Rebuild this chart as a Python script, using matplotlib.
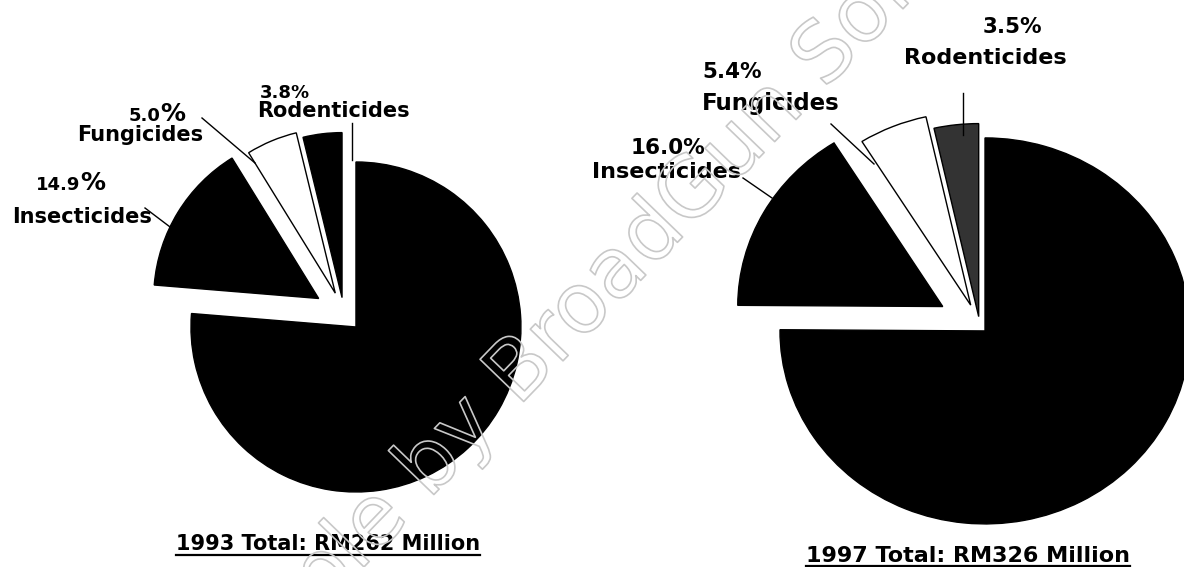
import numpy as np
import matplotlib.pyplot as plt
import matplotlib.patheffects as pe

W, H = 1184, 567

categories = ['Herbicides', 'Insecticides', 'Fungicides', 'Rodenticides']
share_1993 = [76.3, 14.9, 5.0, 3.8]
share_1997 = [75.1, 16.0, 5.4, 3.5]
total_1993 = 262
total_1997 = 326

colors_1993 = ['black', 'black', 'white', 'black']
colors_1997 = ['black', 'black', 'white', '#333333']
# explode as a fraction of the radius
explode_1993 = [0.107, 0.18, 0.137, 0.10]
explode_1997 = [0.036, 0.207, 0.117, 0.049]

plt.rcParams['font.family'] = ['DejaVu Sans']

fig = plt.figure(figsize=(W / 100, H / 100), dpi=100)


def draw_pie(values, colors, explode, cx, cy, r, sx, label):
    # one axes per pie so the right one can be stretched a little sideways
    ax = fig.add_axes([0, 0, 1, 1], label=label)
    ax.pie(values, explode=[e * r for e in explode], colors=colors,
           startangle=90, counterclock=False, radius=r,
           center=(cx / sx, H - cy),
           wedgeprops=dict(edgecolor='black', linewidth=1))
    ax.set_aspect('auto')
    ax.set_xlim(0, W / sx)
    ax.set_ylim(0, H)
    ax.axis('off')
    return ax


draw_pie(share_1993, colors_1993, explode_1993, 344, 314, 165, 1.0, 'p93')
draw_pie(share_1997, colors_1997, explode_1997, 979.8, 326, 193, 205 / 193, 'p97')

# overlay in image pixel coords for labels and leader lines
ov = fig.add_axes([0, 0, 1, 1], label='overlay')
ov.set_xlim(0, W)
ov.set_ylim(H, 0)
ov.axis('off')
ov.patch.set_alpha(0)

lab = dict(fontweight='bold', color='black', va='baseline')

# 1993 labels
ov.text(285, 98, f'{share_1993[3]:.1f}%', ha='center', fontsize=13, **lab)
ov.text(333, 117, categories[3], ha='center', fontsize=15, **lab)
ov.text(160, 121, f'{share_1993[2]:.1f}', ha='right', fontsize=13, **lab)
ov.text(160, 121, '%', ha='left', fontsize=18, **lab)
ov.text(140, 141, categories[2], ha='center', fontsize=15, **lab)
ov.text(80, 190, f'{share_1993[1]:.1f}', ha='right', fontsize=13, **lab)
ov.text(80, 190, '%', ha='left', fontsize=18, **lab)
ov.text(82, 223, categories[1], ha='center', fontsize=15, **lab)

ov.plot([352, 352], [123, 160], color='black', lw=1)
ov.plot([202, 255], [118, 163], color='black', lw=1)
ov.plot([145, 178], [208, 233], color='black', lw=1)

# 1997 labels
ov.text(1012, 33, f'{share_1997[3]:.1f}%', ha='center', fontsize=15.5, **lab)
ov.text(985, 64, categories[3], ha='center', fontsize=16, **lab)
ov.text(702, 78, f'{share_1997[2]:.1f}%', ha='left', fontsize=15.5, **lab)
ov.text(702, 110, categories[2], ha='left', fontsize=16.5, **lab)
ov.text(668, 154, f'{share_1997[1]:.1f}%', ha='center', fontsize=15.5, **lab)
ov.text(666, 178, categories[1], ha='center', fontsize=16, **lab)

ov.plot([963, 963], [93, 135], color='black', lw=1)
ov.plot([831, 874], [124, 164], color='black', lw=1)
ov.plot([743, 772], [178, 198], color='black', lw=1)

# underlined totals
t1 = ov.text(328, 550, f'1993 Total: RM{total_1993} Million', ha='center',
             fontsize=15, **lab)
t2 = ov.text(968, 562, f'1997 Total: RM{total_1997} Million', ha='center',
             fontsize=16, **lab)
fig.canvas.draw()
inv = ov.transData.inverted()
for t, y in [(t1, 555), (t2, 566)]:
    bb = t.get_window_extent()
    x0 = inv.transform((bb.x0, 0))[0]
    x1 = inv.transform((bb.x1, 0))[0]
    ov.plot([x0, x1], [y, y], color='black', lw=1.6)

# watermark
ov.text(620, 268, 'Sample by BroadGun Software', ha='center', va='center',
        rotation=46, rotation_mode='anchor', fontsize=60, color='none',
        zorder=10,
        path_effects=[pe.Stroke(linewidth=1.2, foreground='#c8c8c8')])

fig.savefig('out.png', dpi=100)
